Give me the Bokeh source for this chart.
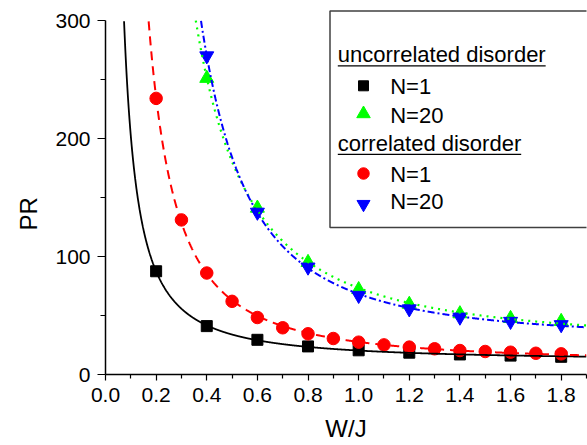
import numpy as np
from bokeh.plotting import figure
from bokeh.models import Label, FixedTicker, NumeralTickFormatter, Title
from bokeh.embed import file_html
from bokeh.resources import INLINE

# ---------------- data ----------------
w_unc_n1 = [0.2, 0.4, 0.6, 0.8, 1.0, 1.2, 1.4, 1.6, 1.8]
pr_unc_n1 = [87.5, 41.0, 29.4, 23.8, 20.5, 18.5, 17.0, 16.0, 15.0]

w_unc_n20 = [0.4, 0.6, 0.8, 1.0, 1.2, 1.4, 1.6, 1.8]
pr_unc_n20 = [251.0, 141.0, 95.0, 72.0, 59.5, 51.5, 47.5, 45.0]

w_cor_n1 = [0.2, 0.3, 0.4, 0.5, 0.6, 0.7, 0.8, 0.9, 1.0, 1.1, 1.2, 1.3, 1.4, 1.5, 1.6, 1.7, 1.8]
pr_cor_n1 = [234.0, 131.0, 86.0, 62.0, 48.3, 39.6, 34.5, 30.5, 27.4, 25.1, 23.2, 21.8, 20.3, 19.5, 18.9, 18.0, 17.5]

w_cor_n20 = [0.4, 0.6, 0.8, 1.0, 1.2, 1.4, 1.6, 1.8]
pr_cor_n20 = [270.0, 137.5, 91.0, 67.0, 55.6, 48.6, 45.0, 42.2]

x_tick_labels = ["0.0", "0.2", "0.4", "0.6", "0.8", "1.0", "1.2", "1.4", "1.6", "1.8"]
x_minor = [0.1, 0.3, 0.5, 0.7, 0.9, 1.1, 1.3, 1.5, 1.7, 1.9]
y_ticks = [0, 100, 200, 300]
y_minor = [50, 150, 250]

legend_headers = ["uncorrelated disorder", "correlated disorder"]
legend_labels = ["N=1", "N=20", "N=1", "N=20"]

x_title = "W/J"
y_title = "PR"

# ---------------- layout (pixels) ----------------
W, H = 587, 445
FL, FR = 105, 586          # frame left/right
FT, FB = 8, 374            # frame top/bottom
Y300 = 20                  # pixel row of PR=300
XMAX = 1.9
YTOP = 300 * (FB - FT) / (FB - Y300)
TEXT_SHIFT = 8.5           # compensates the label baseline offset of the renderer


def px2x(px):
    return (px - FL) * XMAX / (FR - FL)


def px2y(py):
    return (FB - py) * 300 / (FB - Y300)


FONT = "Arial"

p = figure(width=W, height=H, x_range=(0, XMAX), y_range=(0, YTOP),
           output_backend="svg", toolbar_location=None,
           min_border_left=FL, min_border_right=W - FR,
           min_border_top=FT, min_border_bottom=H - FB)
p.grid.visible = False
p.outline_line_color = None
p.background_fill_color = "white"
p.border_fill_color = "white"

# axes
p.xaxis.ticker = FixedTicker(ticks=[float(s) for s in x_tick_labels], minor_ticks=x_minor)
p.xaxis.formatter = NumeralTickFormatter(format="0.0")
p.yaxis.ticker = FixedTicker(ticks=y_ticks, minor_ticks=y_minor)
p.xaxis.bounds = (0, XMAX)
p.yaxis.bounds = (0, 300)
for ax in (p.xaxis, p.yaxis):
    ax.axis_line_color = "black"
    ax.axis_line_width = 1.5
    ax.major_tick_line_color = "black"
    ax.minor_tick_line_color = "black"
    ax.major_tick_line_width = 1.2
    ax.minor_tick_line_width = 1.2
    ax.major_tick_in = 0
    ax.minor_tick_in = 0
    ax.major_label_text_font = FONT
    ax.major_label_text_font_size = "21px"
    ax.major_label_text_color = "black"
    ax.axis_label_text_font = FONT
    ax.axis_label_text_font_size = "24px"
    ax.axis_label_text_font_style = "normal"
    ax.axis_label_text_color = "black"
p.xaxis.major_tick_out = 6
p.xaxis.minor_tick_out = 4
p.yaxis.major_tick_out = 8
p.yaxis.minor_tick_out = 5
p.xaxis.major_label_standoff = 7
p.yaxis.major_label_standoff = 7
p.xaxis.axis_label = x_title
p.xaxis.axis_label_standoff = 10

# y title as a side title so it can sit a little below the middle, as in the reference
p.add_layout(Title(text=y_title, align="left", offset=144, standoff=21,
                   text_font=FONT, text_font_size="24px", text_font_style="normal",
                   text_color="black"), "left")


# ---------------- fits: PR = a * W^-b + c (least squares on the data) ----------------
def fit_power(x, y):
    x = np.asarray(x, float)
    y = np.asarray(y, float)
    best = None
    for b in np.arange(0.5, 3.0, 0.002):
        A = np.column_stack([x ** -b, np.ones_like(x)])
        coef = np.linalg.lstsq(A, y, rcond=None)[0]
        err = np.sum((A @ coef - y) ** 2)
        if best is None or err < best[0]:
            best = (err, coef[0], b, coef[1])
    return best[1:]


def fit_curve(x, y):
    a, b, c = fit_power(x, y)
    xs = np.linspace(0.02, XMAX, 3000)
    ys = a * xs ** -b + c
    m = ys <= 300
    return xs[m], ys[m]


# legend frame (drawn first, clipped by the plot frame on the right like the reference)
p.quad(left=[px2x(329.5)], right=[px2x(700)], top=[px2y(10.5)], bottom=[px2y(227)],
       fill_color="white", line_color="#404040", line_width=1.5)

# markers
p.scatter(w_unc_n1, pr_unc_n1, marker="square", size=11, color="black")
p.scatter(w_unc_n20, pr_unc_n20, marker="triangle", size=14, color="#00ff00")
p.scatter(w_cor_n1, pr_cor_n1, marker="circle", size=12.5, color="#ff0000")
p.scatter(w_cor_n20, pr_cor_n20, marker="inverted_triangle", size=14, color="#0000ff")

# fit lines
xs, ys = fit_curve(w_unc_n1, pr_unc_n1)
p.line(xs, ys, line_color="black", line_width=1.8)
xs, ys = fit_curve(w_cor_n1, pr_cor_n1)
p.line(xs, ys, line_color="#ff0000", line_width=2, line_dash="9 6")
xs, ys = fit_curve(w_unc_n20, pr_unc_n20)
p.line(xs, ys, line_color="#00ff00", line_width=2.2, line_dash="2 5")
xs, ys = fit_curve(w_cor_n20, pr_cor_n20)
p.line(xs, ys, line_color="#0000ff", line_width=2, line_dash="7 3 2 3")

# ---------------- legend contents ----------------
LEG_FS = 22
head_x = 337.3
head_base = [62.7, 151.3]
head_em = [9.448, 8.336]   # Arial advance widths in em
for txt, yb, em in zip(legend_headers, head_base, head_em):
    p.add_layout(Label(x=px2x(head_x), y=px2y(yb - TEXT_SHIFT), text=txt, text_font=FONT,
                       text_font_size=f"{LEG_FS}px", text_baseline="alphabetic",
                       text_color="black"))
    p.segment(x0=[px2x(head_x)], x1=[px2x(head_x + em * LEG_FS)],
              y0=[px2y(yb + 2.6)], y1=[px2y(yb + 2.6)], line_color="black", line_width=1.3)

row_marker_y = [85.3, 113.3, 173.0, 203.7]
row_base_y = [94.0, 123.3, 182.3, 209.0]
row_markers = ["square", "triangle", "circle", "inverted_triangle"]
row_colors = ["black", "#00ff00", "#ff0000", "#0000ff"]
row_sizes = [10, 13.5, 11.5, 13]
for lab, my, by, mk, col, sz in zip(legend_labels, row_marker_y, row_base_y,
                                     row_markers, row_colors, row_sizes):
    p.scatter([px2x(363)], [px2y(my)], marker=mk, size=sz, color=col)
    p.add_layout(Label(x=px2x(389.7), y=px2y(by - TEXT_SHIFT), text=lab, text_font=FONT,
                       text_font_size=f"{LEG_FS}px", text_baseline="alphabetic",
                       text_color="black"))

open("out.html", "w").write(file_html(p, INLINE))
